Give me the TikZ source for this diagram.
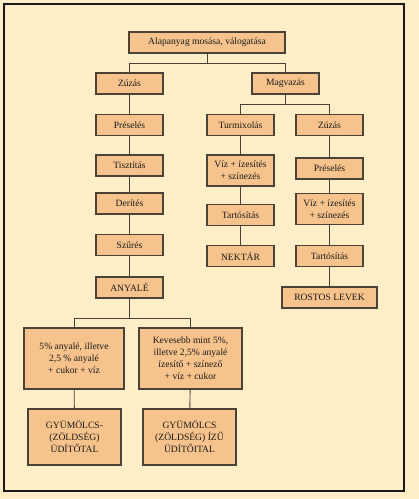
\documentclass[tikz,border=0pt]{standalone}
\usepackage{fontspec}
\setmainfont{Liberation Serif}
\usetikzlibrary{calc}
\definecolor{lapszin}{HTML}{FDEEC8}
\definecolor{dobozszin}{HTML}{F7C38D}
\definecolor{keretszin}{HTML}{4A4236}
\tikzset{
	lepes/.style={draw=keretszin, fill=dobozszin, line width=1.1pt, align=center,
		minimum width=67pt, minimum height=21pt, inner sep=1pt,
		font=\fontsize{9.6}{12}\selectfont, text=black!90},
	vonal/.style={draw=keretszin, line width=0.9pt}
}
\begin{document}
\begin{tikzpicture}[x=1pt, y=-1pt]
		%%%%% START %%%%%
		
		\useasboundingbox[fill=lapszin] (0, 0) rectangle (419, 499);
		\draw[line width=1.2pt, color=black!90] (4, 4) rectangle (404, 491);
		
		% felso sor
		\node[lepes, minimum width=156pt] (alap) at (207, 42.5) {Alapanyag mosása, válogatása};
		\node[lepes] (zuzas) at (129.5, 83.5) {Zúzás};
		\node[lepes] (magv) at (285.5, 83.5) {Magvazás};
		
		% bal oszlop
		\node[lepes] (presel) at (129.5, 125) {Préselés};
		\node[lepes] (tiszt) at (129.5, 165.5) {Tisztítás};
		\node[lepes] (derit) at (129.5, 203.5) {Derítés};
		\node[lepes] (szur) at (129.5, 245) {Szűrés};
		\node[lepes] (anyale) at (129.5, 287.5) {ANYALÉ};
		
		% kozepso oszlop
		\node[lepes] (turmix) at (240.5, 125) {Turmixolás};
		\node[lepes, minimum height=31pt] (viza) at (240.5, 170.5) {Víz + ízesítés\\+ színezés};
		\node[lepes] (tartosa) at (240.5, 215) {Tartósítás};
		\node[lepes] (nektar) at (240.5, 256) {NEKTÁR};
		
		% jobb oszlop
		\node[lepes] (zuzasb) at (329.5, 125) {Zúzás};
		\node[lepes] (preselb) at (329.5, 168.5) {Préselés};
		\node[lepes, minimum height=31pt] (vizb) at (329.5, 209) {Víz + ízesítés\\+ színezés};
		\node[lepes] (tartosb) at (329.5, 256) {Tartósítás};
		\node[lepes, minimum width=95pt] (rostos) at (329.5, 297.5) {ROSTOS LEVEK};
		
		% also resz
		\node[lepes, minimum width=100pt, minimum height=61pt] (otsz) at (74, 358.5) {5\% anyalé, illetve\\2,5 \% anyalé\\+ cukor + víz};
		\node[lepes, minimum width=103pt, minimum height=61pt] (keves) at (190.5, 358.5) {Kevesebb mint 5\%,\\illetve 2,5\% anyalé\\ízesítő + színező\\+ víz + cukor};
		\node[lepes, minimum width=93pt, minimum height=56pt] (gyuma) at (74.5, 437) {GYÜMÖLCS-\\(ZÖLDSÉG)\\ÜDÍTŐTAL};
		\node[lepes, minimum width=93pt, minimum height=56pt] (gyumb) at (189.5, 437) {GYÜMÖLCS\\(ZÖLDSÉG) ÍZŰ\\ÜDÍTŐITAL};
		
		% elagazasok
		\coordinate (ag1) at ($(alap.south)+(0, 10)$);
		\draw[vonal] (alap.south) -- (ag1);
		\draw[vonal] (ag1) -| (zuzas.north);
		\draw[vonal] (ag1) -| (magv.north);
		
		\coordinate (ag2) at ($(magv.south)+(0, 10)$);
		\draw[vonal] (magv.south) -- (ag2);
		\draw[vonal] (ag2) -| (turmix.north);
		\draw[vonal] (ag2) -| (zuzasb.north);
		
		\coordinate (ag3) at ($(anyale.south)+(0, 20)$);
		\draw[vonal] (anyale.south) -- (ag3);
		\draw[vonal] (ag3) -| (otsz.north);
		\draw[vonal] (ag3) -| (keves.north);
		
		% egyenes lancok
		\draw[vonal] (zuzas) -- (presel) -- (tiszt) -- (derit) -- (szur) -- (anyale);
		\draw[vonal] (turmix) -- (viza) -- (tartosa) -- (nektar);
		\draw[vonal] (zuzasb) -- (preselb) -- (vizb) -- (tartosb) -- (rostos);
		\draw[vonal] (otsz) -- (gyuma);
		\draw[vonal] (keves) -- (gyumb);
		
		%%%%% END %%%%%
	\end{tikzpicture}
\end{document}
